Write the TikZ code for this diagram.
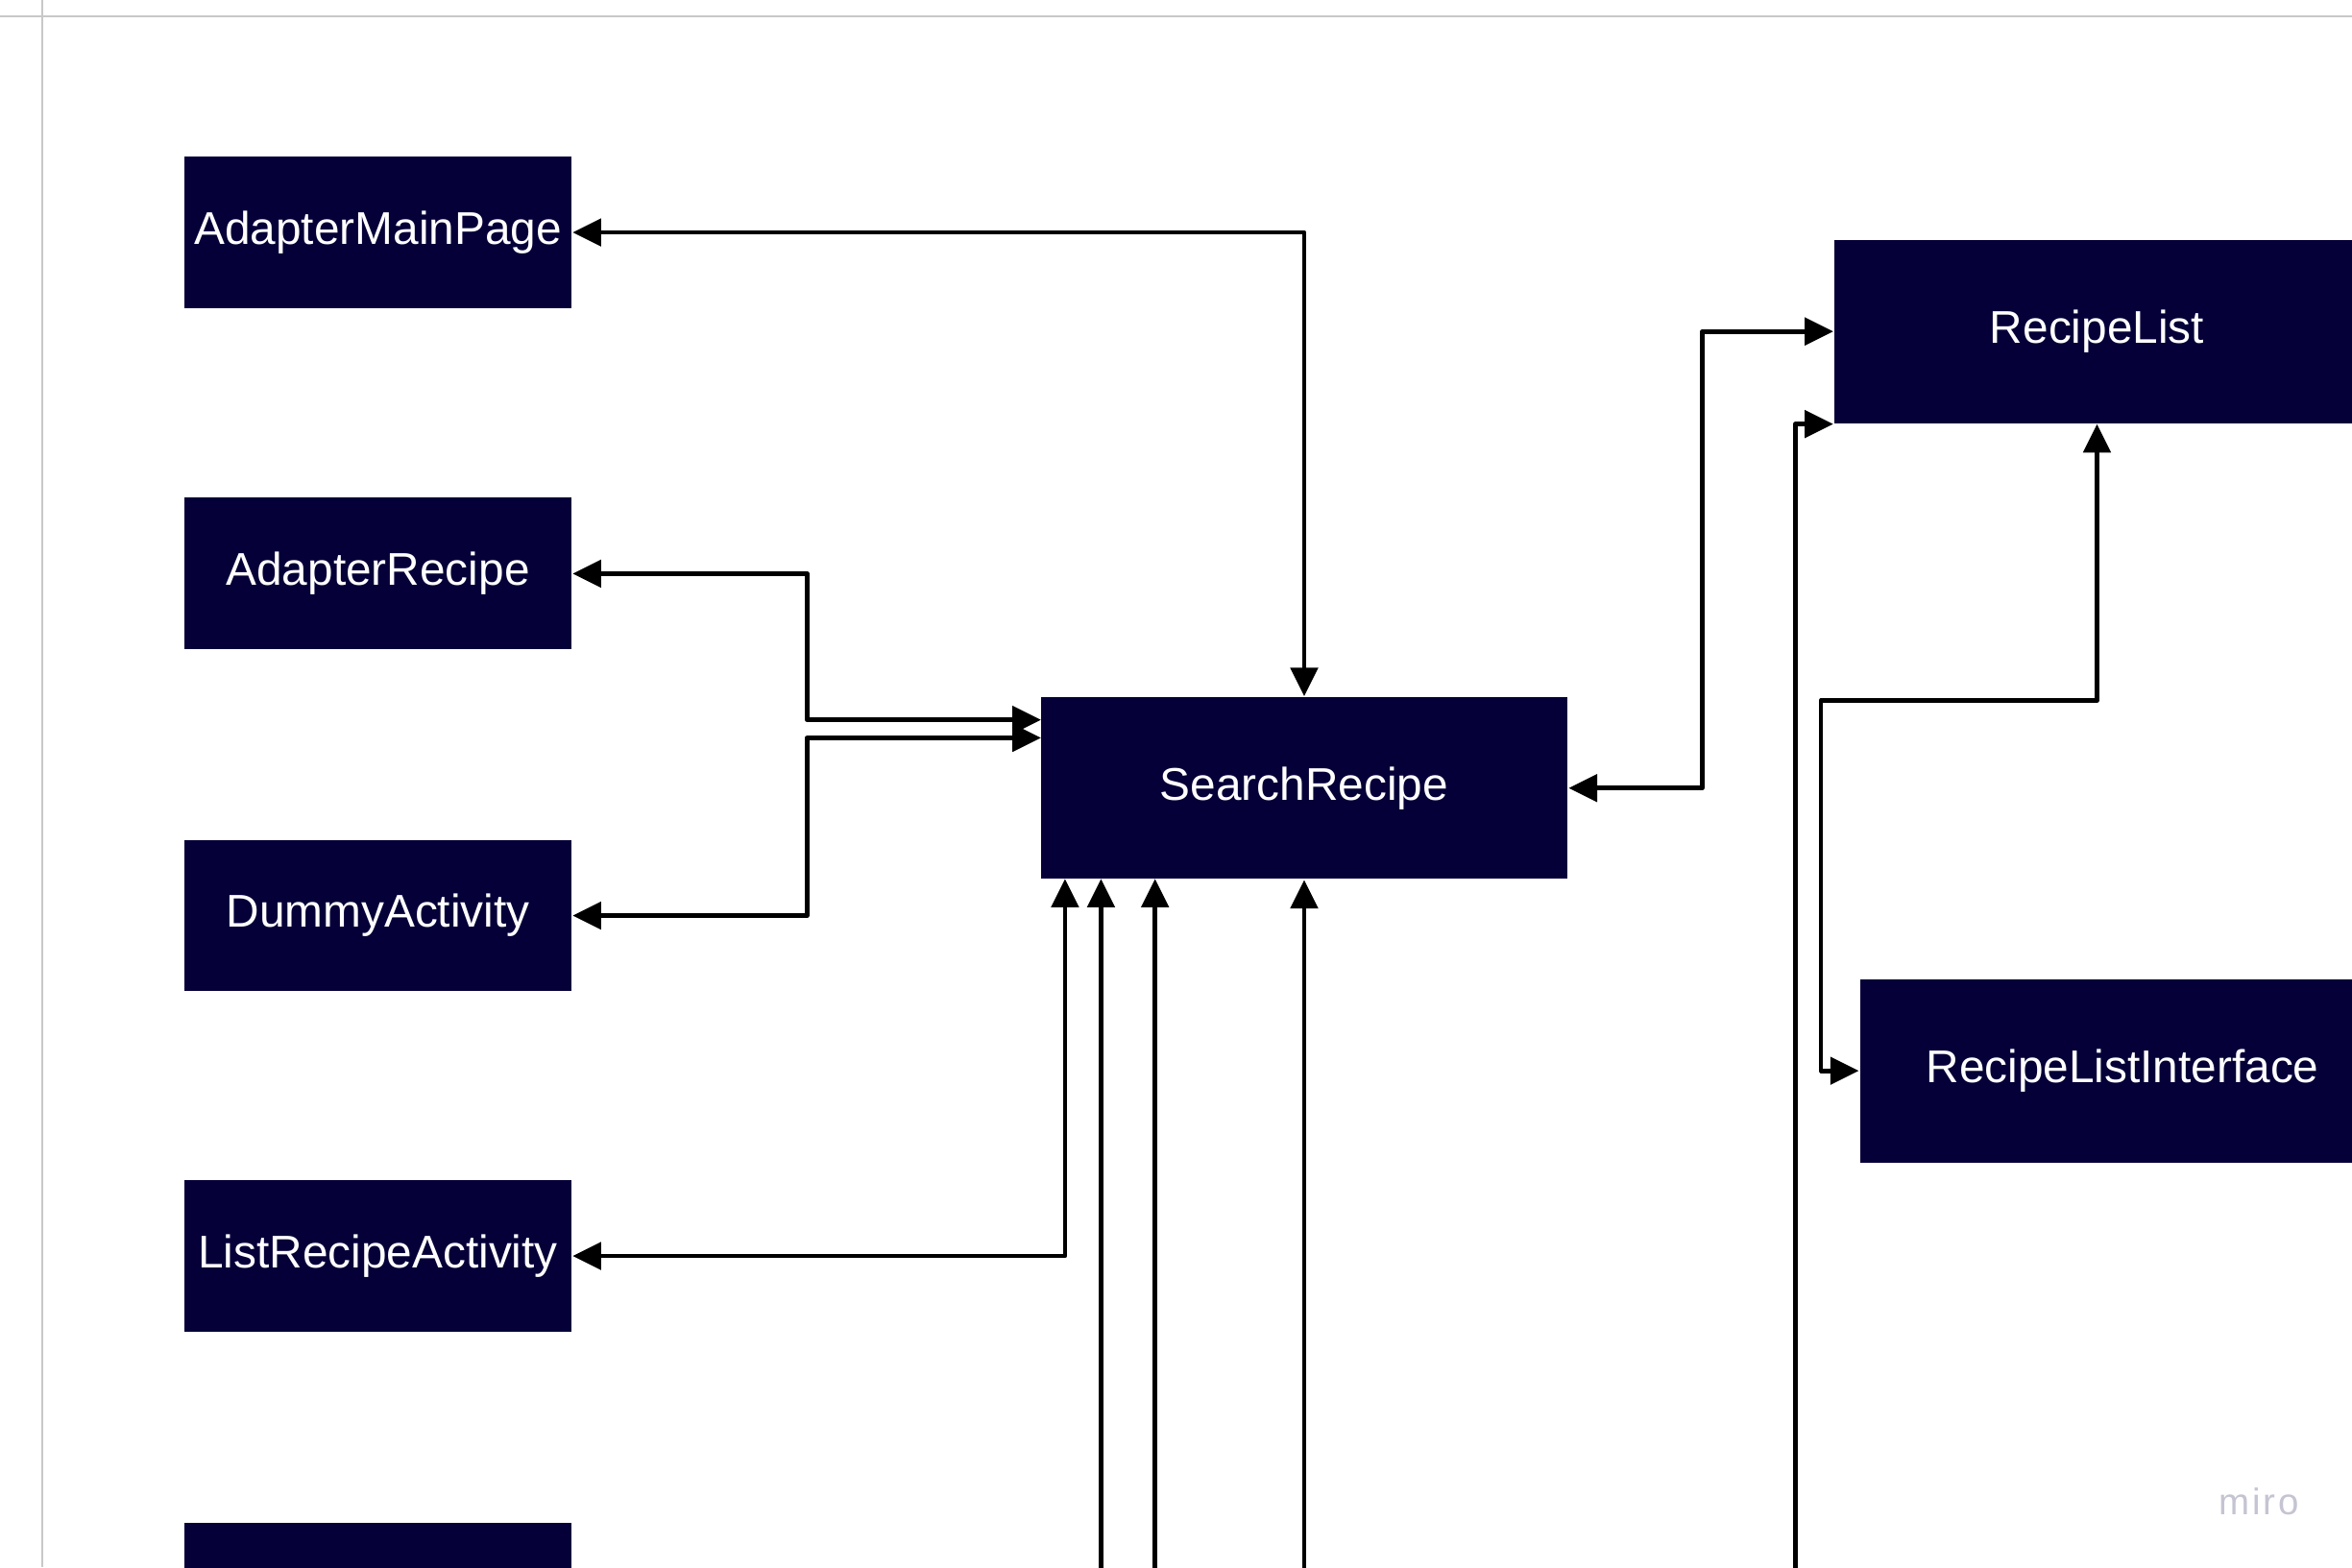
\documentclass[tikz,border=0pt]{standalone}
\usepackage{fontspec}
\setmainfont{Liberation Sans}
\usetikzlibrary{arrows.meta}
\definecolor{navy}{RGB}{5,0,56}
\definecolor{frame}{RGB}{200,200,200}
\definecolor{wm}{RGB}{196,196,210}
\begin{document}
\begin{tikzpicture}[x=0.01cm,y=-0.01cm,
  box/.style={rectangle,fill=navy,draw=none,text=white,inner sep=0pt,
    font=\fontsize{8.7pt}{10pt}\selectfont,minimum width=2.58cm,minimum height=1.01cm},
  wide/.style={box,minimum width=3.50cm,minimum height=1.22cm},
  tip/.tip={Triangle[length=0.19cm,width=0.18cm]},
  conn/.style={line width=0.85pt,draw=black,line join=round},
  both/.style={conn,tip-tip},
  single/.style={conn,-tip}]
\useasboundingbox (0,0) rectangle (1568,1045);
\clip (0,0) rectangle (1568,1045);
% frame lines
\draw[frame,line width=0.3pt] (0,11) -- (1568,11);
\draw[frame,line width=0.3pt] (28,0) -- (28,1045);
% nodes
\node[box] (amp) at (252,155) {AdapterMainPage};
\node[box] (ar)  at (252,382.5) {AdapterRecipe};
\node[box] (da)  at (252,610.5) {DummyActivity};
\node[box] (lra) at (252,837.5) {ListRecipeActivity};
\node[box] (fifth) at (252,1066) {};
\node[box,minimum width=3.51cm,minimum height=1.21cm] (srch) at (869.5,525.5) {SearchRecipe};
\node[wide] (rl)  at (1398,221) {RecipeList};
\node[wide] (rli) at (1415,714) {RecipeListInterface};
% attach coordinates
\coordinate (sIn1) at (694,480);
\coordinate (sIn2) at (694,492);
\coordinate (sB1) at (710,586);
\coordinate (sB2) at (734,586);
\coordinate (sB3) at (770,586);
\coordinate (b2) at (734,1060);
\coordinate (b3) at (770,1060);
\coordinate (b4) at (869.5,1060);
\coordinate (b5) at (1197,1060);
% connectors
\draw[both] (srch.north) |- (amp.east);
\draw[both] (ar.east) -| (538,480) -- (sIn1);
\draw[both] (da.east) -| (538,492) -- (sIn2);
\draw[both] (lra.east) -| (sB1);
\draw[single] (b2) -- (sB2);
\draw[single] (b3) -- (sB3);
\draw[single] (b4) -- (srch.south);
\draw[both] (srch.east) -- ++(89,0) |- (rl.west);
\draw[single] (b5) |- (rl.south west);
\draw[both] (rl.south) |- (1214,467) |- (rli.west);
% watermark
\node[text=wm,font=\fontsize{7pt}{8pt}\selectfont\addfontfeature{LetterSpace=8},inner sep=0pt] (miro) at (1506,1001) {miro};
\end{tikzpicture}
\end{document}
